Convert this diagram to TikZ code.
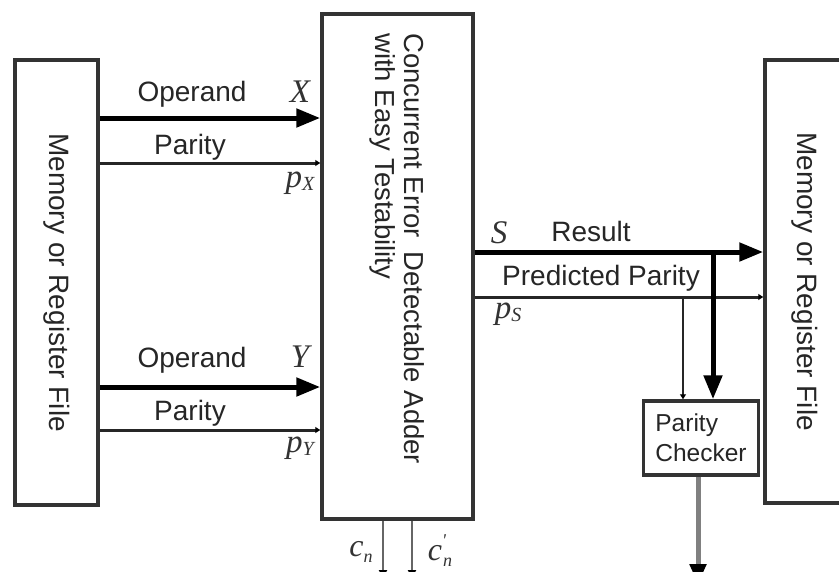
\documentclass[tikz,border=0pt]{standalone}
\usepackage{fontspec}
\setmainfont{Liberation Sans}
\newfontfamily\tnr{Liberation Serif}
\usetikzlibrary{arrows.meta}
\begin{document}
\begin{tikzpicture}[x=1pt,y=-1pt,
  box/.style={draw=black!80, line width=3.5pt, fill=white, inner sep=0pt, rectangle},
  lbl/.style={font=\fontsize{28}{30}\selectfont, text=black!85, inner sep=0pt},
  var/.style={font=\tnr\itshape\fontsize{33}{33}\selectfont, text=black!80, inner sep=0pt},
  bus/.style={line width=5pt, black, -{Triangle[length=24pt,width=18pt]}},
  wire/.style={line width=3pt, black!85, -{Triangle[length=5pt,width=6pt,color=black]}},
  cline/.style={line width=2.5pt, black!60, -{Triangle[length=8pt,width=8pt,color=black]}},
]
\useasboundingbox (0,0) rectangle (839,571);
\clip (0,0) rectangle (839,571);
\fill[white] (0,0) rectangle (839,571);

% boxes
\node[box, minimum width=83pt, minimum height=445pt] (memL) at (56.5,282.5) {};
\node[box, minimum width=151pt, minimum height=505pt] (adder) at (397.5,266.5) {};
\node[box, minimum width=80pt, minimum height=443pt] (memR) at (805,281.5) {};
\node[box, minimum width=115pt, minimum height=74pt, align=left,
      font=\fontsize{24.5}{30}\selectfont, text=black!85] (checker) at (701,438) {Parity\\Checker};

% box texts
\node[lbl, rotate=-90] (memLtxt) at (memL.center) {Memory or Register File};
\node[lbl, rotate=-90] (memRtxt) at (memR.center) {Memory or Register File};
\node[lbl, rotate=-90, anchor=west, align=left, font=\fontsize{27.5}{29}\selectfont] (addtxt) at (397.5,33)
  {Concurrent Error\hspace{6pt} Detectable Adder\\with Easy Testability};

% coordinates of wire levels
\coordinate (yX) at (0,118);
\coordinate (yPX) at (0,163);
\coordinate (yY) at (0,387);
\coordinate (yPY) at (0,430);
\coordinate (yS) at (0,252);
\coordinate (yPS) at (0,297);
\coordinate (vR) at (713,252);
\coordinate (vP) at (683,297);
\coordinate (out) at (698,584);
\coordinate (cn) at (383,578);
\coordinate (cpn) at (412,578);

% operand X
\draw[bus] (memL.east |- yX) -- (adder.west |- yX);
\draw[wire] (memL.east |- yPX) -- (adder.west |- yPX);
\node[lbl] (opX) at (192,94) {Operand};
\node[var] (X) at (300,92) {X};
\node[lbl] (parX) at (190,147) {Parity};
\node[var] (pX) at (300,183) {p\raisebox{-0.2ex}{\fontsize{20}{20}\selectfont X}};

% operand Y
\draw[bus] (memL.east |- yY) -- (adder.west |- yY);
\draw[wire] (memL.east |- yPY) -- (adder.west |- yPY);
\node[lbl] (opY) at (192,360) {Operand};
\node[var] (Y) at (300,357) {Y};
\node[lbl] (parY) at (190,413) {Parity};
\node[var] (pY) at (300,448) {p\raisebox{-0.2ex}{\fontsize{20}{20}\selectfont Y}};

% result
\draw[bus] (adder.east |- yS) -- (memR.west |- yS);
\draw[wire] (adder.east |- yPS) -- (memR.west |- yPS);
\node[var] (S) at (499,233) {S};
\node[lbl] (res) at (591,231) {Result};
\node[lbl] (pp) at (601,278) {Predicted Parity};
\node[var] (pS) at (508,314) {p\raisebox{-0.2ex}{\fontsize{20}{20}\selectfont S}};

% to checker
\draw[bus] (vR) -- (checker.north -| vR);
\draw[wire, line width=2.5pt] (vP) -- (checker.north -| vP);
\draw[line width=5pt, black!50, -{Triangle[length=20pt,width=16pt,color=black]}] (checker.south -| out) -- (out);

% carries
\draw[cline] (adder.south -| cn) -- (cn);
\draw[cline] (adder.south -| cpn) -- (cpn);
\node[var, font=\tnr\itshape\fontsize{32}{32}\selectfont] (cnl) at (361,552) {c\raisebox{-0.45ex}{\fontsize{18}{18}\selectfont n}};
\node[var, font=\tnr\itshape\fontsize{32}{32}\selectfont] (cpnl) at (440,551) {c\raisebox{0.9ex}{\fontsize{18}{18}\selectfont '}\kern-3pt\raisebox{-0.45ex}{\fontsize{18}{18}\selectfont n}};
\end{tikzpicture}
\end{document}
